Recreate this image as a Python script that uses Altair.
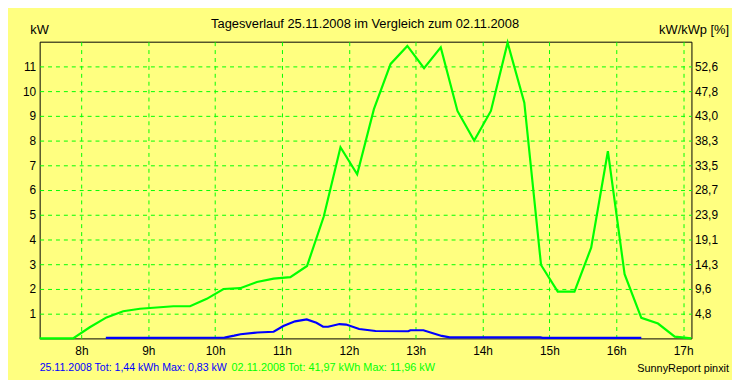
import altair as alt
import pandas as pd

# 02.11.2008 (green) - quarter-hour samples, kW
green_hours = [7.375, 7.625, 7.875, 8.125, 8.375, 8.625, 8.875, 9.125, 9.375, 9.625,
               9.875, 10.125, 10.375, 10.625, 10.875, 11.125, 11.375, 11.625, 11.875, 12.125,
               12.375, 12.625, 12.875, 13.125, 13.375, 13.625, 13.875, 14.125, 14.375, 14.625,
               14.875, 15.125, 15.375, 15.625, 15.875, 16.125, 16.375, 16.625, 16.875, 17.125]
green_kw = [0, 0, 0, 0.45, 0.85, 1.1, 1.2, 1.25, 1.3, 1.3,
            1.6, 2.0, 2.03, 2.28, 2.42, 2.48, 2.93, 4.93, 7.73, 6.64,
            9.27, 11.1, 11.83, 10.93, 11.77, 9.2, 8.0, 9.2, 11.96, 9.53,
            2.97, 1.89, 1.89, 3.67, 7.57, 2.6, 0.83, 0.6, 0.07, 0]

# 25.11.2008 (blue), kW
blue_hours = [8.365, 10.14, 10.285, 10.38, 10.63, 10.875, 11.02, 11.195, 11.37, 11.515,
              11.615, 11.69, 11.86, 11.96, 12.155, 12.40, 12.89, 12.92, 13.115, 13.39,
              13.51, 14.865, 14.9, 16.375]
blue_kw = [0.02, 0.03, 0.11, 0.17, 0.24, 0.27, 0.5, 0.69, 0.77, 0.63,
           0.47, 0.47, 0.58, 0.56, 0.38, 0.30, 0.29, 0.33, 0.33, 0.10,
           0.04, 0.04, 0.02, 0.02]

kw_ticks = [1, 2, 3, 4, 5, 6, 7, 8, 9, 10, 11]
hour_ticks = [8, 9, 10, 11, 12, 13, 14, 15, 16, 17]
kwp_factor = 4.782  # % per kW (right axis)

title_text = "Tagesverlauf 25.11.2008 im Vergleich zum 02.11.2008"
blue_info = "25.11.2008 Tot: 1,44 kWh Max: 0,83 kW"
green_info = "02.11.2008 Tot: 41,97 kWh Max: 11,96 kW"
credit = "SunnyReport pinxit"

FONT = "Liberation Sans"
GREEN = "#00FF00"
BLUE = "#0000FF"
BG = "#FFFF80"

green_df = pd.DataFrame({"h": green_hours, "kw": green_kw})
blue_df = pd.DataFrame({"h": blue_hours, "kw": blue_kw})

xscale = alt.Scale(domain=[7.375, 17.125], nice=False, zero=False)
yscale = alt.Scale(domain=[0, 12], nice=False)

xaxis = alt.Axis(values=hour_ticks, labelExpr="datum.value + 'h'", grid=True,
                 gridColor=GREEN, gridDash=[4, 4], gridWidth=1, domain=False,
                 ticks=False, tickSize=0, labelPadding=7, title=None,
                 labelFont=FONT, labelFontSize=12, labelColor="black",
                 labelOverlap=False)
yaxis_left = alt.Axis(values=kw_ticks, grid=True, gridColor=GREEN, gridDash=[4, 4],
                      gridWidth=1, domain=False, ticks=False, tickSize=0,
                      labelPadding=4, title=None, labelFont=FONT, labelFontSize=12,
                      labelColor="black", orient="left", labelOverlap=False)
yaxis_right = alt.Axis(values=kw_ticks, grid=False, domain=False, ticks=False,
                       tickSize=0, labelPadding=3, title=None, labelFont=FONT,
                       labelFontSize=12, labelColor="black", orient="right",
                       labelOverlap=False,
                       labelExpr=f"replace(format(datum.value*{kwp_factor}, '.1f'), '.', ',')")

green_line = alt.Chart(green_df).mark_line(color=GREEN, strokeWidth=2.2).encode(
    x=alt.X("h:Q", scale=xscale, axis=xaxis),
    y=alt.Y("kw:Q", scale=yscale, axis=yaxis_left),
)
blue_line = alt.Chart(blue_df).mark_line(color=BLUE, strokeWidth=2.2).encode(
    x=alt.X("h:Q", scale=xscale, axis=xaxis),
    y=alt.Y("kw:Q", scale=yscale, axis=yaxis_left),
)
right_axis = alt.Chart(green_df).mark_line(opacity=0).encode(
    x=alt.X("h:Q", scale=xscale, axis=xaxis),
    y=alt.Y("kw:Q", scale=yscale, axis=yaxis_right),
)


def label(text, x, y, align="left", size=12, color="black"):
    return alt.Chart(pd.DataFrame({"t": [text]})).mark_text(
        align=align, baseline="alphabetic", font=FONT, fontSize=size, color=color
    ).encode(text="t:N", x=alt.value(x), y=alt.value(y))


texts = [
    label(title_text, 329, -14, "center", 13),
    label("kW", -9.5, -8, "left", 13),
    label("kW/kWp [%]", 697, -8, "right", 13),
    label(blue_info, 0, 333, "left", 10.7, BLUE),
    label(green_info, 194, 333, "left", 11, GREEN),
    label(credit, 697, 334, "right", 11),
]

lines = alt.layer(green_line, blue_line)
chart = alt.layer(lines, right_axis, *texts).resolve_scale(y="independent").properties(
    width=659, height=300,
    padding={"left": 32, "top": 32, "right": 41, "bottom": 40},
    autosize=alt.AutoSizeParams(type="none"),
    background=BG,
).configure_view(stroke="black", strokeWidth=1).configure_axis(labelOverlap=False)

chart.save("out.html", embed_options={"renderer": "svg", "actions": False})
